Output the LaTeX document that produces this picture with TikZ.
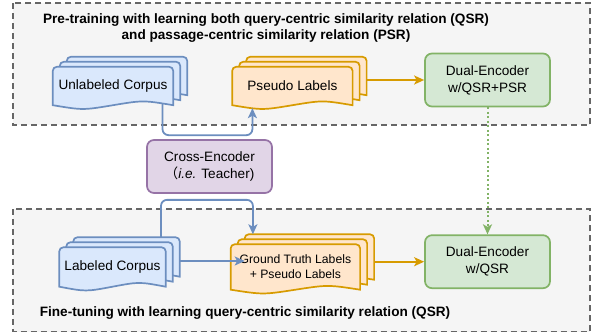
\documentclass[tikz,border=0pt]{standalone}
\usepackage{fontspec}
\setmainfont{Liberation Sans}
\newfontfamily\cjk{Noto Sans CJK SC}
\usetikzlibrary{arrows.meta,positioning,calc}

\definecolor{blueFill}{HTML}{DAE8FC}
\definecolor{blueLine}{HTML}{6C8EBF}
\definecolor{orangeFill}{HTML}{FFE6CC}
\definecolor{orangeLine}{HTML}{D79B00}
\definecolor{greenFill}{HTML}{D5E8D4}
\definecolor{greenLine}{HTML}{82B366}
\definecolor{purpleFill}{HTML}{E1D5E7}
\definecolor{purpleLine}{HTML}{9673A6}
\definecolor{frameFill}{HTML}{F5F5F5}
\definecolor{frameLine}{HTML}{666666}

\pgfdeclarelayer{background}
\pgfsetlayers{background,main}

% three stacked sheets behind a document node
\newcommand{\docstack}[2]{%
  \foreach \k in {2,1,0}{
    \draw[#2] let \p1=([xshift=7pt*\k,yshift=5pt*\k]#1.south west),
                  \p2=([xshift=7pt*\k,yshift=5pt*\k]#1.north east) in
      (\x1,\y1) -- (\x1,{\y2-4pt}) arc[start angle=180,end angle=90,radius=4pt]
      -- ({\x2-4pt},\y2) arc[start angle=90,end angle=0,radius=4pt]
      -- (\x2,\y1) .. controls ({0.75*\x2+0.25*\x1},{\y1+5pt}) .. ({0.5*\x1+0.5*\x2},\y1)
      .. controls ({0.25*\x2+0.75*\x1},{\y1-5pt}) .. (\x1,\y1) -- cycle;
  }%
}

\begin{document}
\begin{tikzpicture}[
    x=1pt, y=-1pt,
    every node/.style={font=\fontsize{13.6}{17}\selectfont},
    sheet/.style={inner sep=0pt, align=center},
    enc/.style={rectangle, rounded corners=7pt, line width=1.7pt,
                minimum width=125pt, minimum height=53pt, align=center},
    frame/.style={draw=frameLine, fill=frameFill, line width=1.7pt,
                  dash pattern=on 6pt off 4pt},
    title/.style={font=\bfseries\fontsize{13.6}{16}\selectfont, align=center},
    blueDoc/.style={draw=blueLine, fill=blueFill, line width=1.7pt},
    orangeDoc/.style={draw=orangeLine, fill=orangeFill, line width=1.7pt},
    link/.style={line width=1.8pt, -{Stealth[length=10pt,width=9pt,inset=2.5pt]}},
    blueArr/.style={link, draw=blueLine, rounded corners=6pt},
    orangeArr/.style={link, draw=orangeLine},
    greenArr/.style={link, draw=greenLine, dash pattern=on 2pt off 2.5pt, line width=2pt}
  ]
  \useasboundingbox (0,0) rectangle (595,333);

  % Frames
  \begin{pgfonlayer}{background}
    \draw[frame] (13,3) rectangle (590,125);
    \draw[frame] (13,209) rectangle (590,331.5);
  \end{pgfonlayer}
  \node[title] (preTitle) at (266,28) {Pre-training with learning both query-centric similarity relation (QSR)\\and passage-centric similarity relation (PSR)};
  \node[title] (ftTitle) at (245,313) {Fine-tuning with learning query-centric similarity relation (QSR)};

  % Blocks
  \node[sheet, minimum width=120pt, minimum height=38pt] (unlab) at (113,86) {Unlabeled Corpus};
  \node[sheet, minimum width=120pt, minimum height=38pt, right=59pt of unlab] (pseudo) {Pseudo Labels};
  \node[enc, draw=greenLine, fill=greenFill] (dualPre) at (487.5,80) {Dual-Encoder\\w/QSR+PSR};
  \node[enc, draw=purpleLine, fill=purpleFill] (cross) at (209.5,166.5) {Cross-Encoder\\{\cjk （}\textit{i.e.} Teacher)};
  \node[sheet, minimum width=106pt, minimum height=39pt] (lab) at (112.5,267) {Labeled Corpus};
  \node[sheet, minimum width=129pt, minimum height=45pt, right=65pt of lab,
        font=\fontsize{12.2}{15}\selectfont] (truth) {Ground Truth Labels\\+ Pseudo Labels};
  \node[enc, draw=greenLine, fill=greenFill, below=127pt of dualPre] (dualFt) {Dual-Encoder\\w/QSR};

  \begin{pgfonlayer}{background}
    \docstack{unlab}{blueDoc}
    \docstack{pseudo}{orangeDoc}
    \docstack{lab}{blueDoc}
    \docstack{truth}{orangeDoc}
  \end{pgfonlayer}

  % Connections
  \draw[blueArr] ([xshift=49.5pt,yshift=2pt]unlab.south) |- ([xshift=-40pt,yshift=4pt]pseudo.south |- cross.north) -- ([xshift=-40pt,yshift=-3pt]pseudo.south);
  \draw[orangeArr] ([xshift=14pt]pseudo.east |- dualPre.west) -- (dualPre.west);
  \draw[greenArr] (dualPre) -- (dualFt);
  \draw[blueArr] ([xshift=48.5pt,yshift=10pt]lab.north) |- ([xshift=-42.5pt,yshift=-6pt]truth.north |- cross.south) -- ([xshift=-42.5pt,yshift=10pt]truth.north);
  \draw[blueArr] ([xshift=14pt,yshift=6pt]lab.east) -- ([xshift=14pt,yshift=6pt]lab.east -| truth.west);
  \draw[orangeArr] ([xshift=14pt]truth.east |- dualFt.west) -- (dualFt.west);
\end{tikzpicture}
\end{document}
